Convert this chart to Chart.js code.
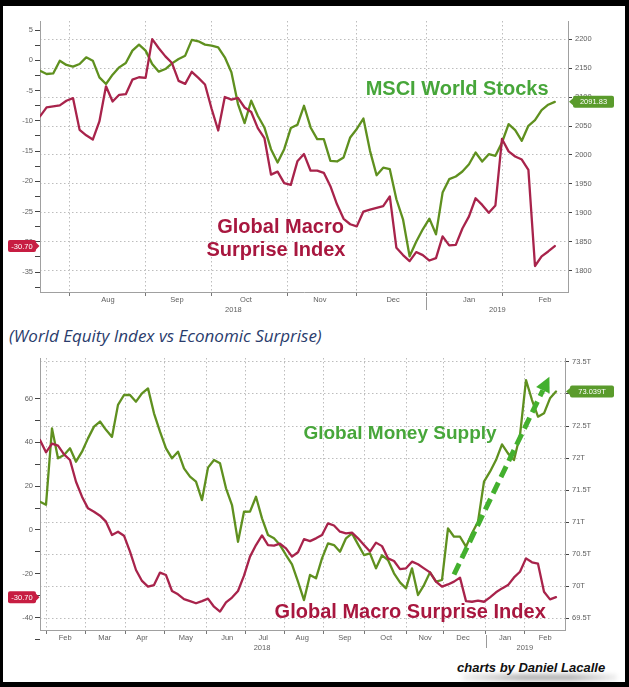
<!DOCTYPE html>
<html>
<head>
<meta charset="utf-8">
<script src="https://cdn.jsdelivr.net/npm/chart.js@4.4.1/dist/chart.umd.min.js"></script>
<style>
html,body{margin:0;padding:0;background:#000;}
#page{position:absolute;left:0;top:0;width:629px;height:687px;background:#000;overflow:hidden;}
#white{position:absolute;left:3px;top:6px;width:622px;height:676px;background:#fff;}
#c1{position:absolute;left:0;top:0;}
#c2{position:absolute;left:0;top:340px;}
#sub{position:absolute;left:9px;top:325px;font-family:'Open Sans',sans-serif;font-style:italic;font-size:17px;line-height:22px;color:#2a3c6c;white-space:nowrap;}
#credit{position:absolute;left:457px;top:660px;font-family:'Liberation Sans',Arial,sans-serif;font-style:italic;font-weight:bold;font-size:13px;line-height:16px;color:#111;white-space:nowrap;}
#shadow{position:absolute;left:462px;top:674px;width:155px;height:7px;background:linear-gradient(to right,rgba(0,0,0,0.05),rgba(0,0,0,0.28) 40%,rgba(0,0,0,0.28) 70%,rgba(0,0,0,0.05));filter:blur(2px);}
</style>
</head>
<body>
<div id="page">
  <div id="white"></div>
  <div id="shadow"></div>
  <canvas id="c1" width="629" height="320"></canvas>
  <div id="sub">(World Equity Index vs Economic Surprise)</div>
  <canvas id="c2" width="629" height="320"></canvas>
  <div id="credit">charts by Daniel Lacalle</div>
</div>
<script>
// ---------------- DATA ----------------
// Top chart: sampled every 2 trading days, Jul 2018 - Feb 2019
const topMSCI = [2145.7,2140,2141,2163,2155.6,2152.7,2157.3,2168.8,2163,2134.2,2122.7,2138.8,2151.5,2159,2180.4,2190.8,2180.4,2157.3,2144,2148.6,2158.4,2166,2171.7,2198.9,2196.5,2190.8,2189,2186.2,2168.8,2142.9,2088,2055,2093.8,2067.8,2047.6,2010.1,1987,2010.1,2046.5,2052.2,2085.1,2047.6,2027.4,2027.4,1989.9,1988.8,1995.7,2030.3,2045,2063,2007.2,1965,1978,1975.5,1923.5,1888.9,1825,1850,1871.6,1890,1862.9,1935,1958.2,1962.8,1971.4,1984.1,2004.3,1988.8,2001.4,1998.6,2021.6,2053.4,2043,2024.5,2050.5,2060.3,2077.6,2086.9,2091.83];
const topSurprise = [-9.27,-7.78,-7.62,-7.45,-6.68,-6.24,-11.5,-12.4,-13.1,-10.1,-4.3,-6.8,-5.7,-5.6,-3.2,-2.8,-2.9,3.5,2.0,0.65,-0.45,-3.4,-3.9,-1.9,-2.9,-4.0,-8.0,-11.6,-6.07,-6.5,-6.2,-7.8,-8.55,-11.2,-12.85,-18.9,-18.4,-20.3,-20.6,-16.7,-15.5,-18.25,-18.25,-18.6,-20.8,-23.8,-26.2,-27.1,-27.45,-25,-24.7,-24.4,-24.1,-22.5,-31.0,-32.2,-33.2,-31.7,-32.2,-33.1,-32.7,-29.1,-30.6,-30.5,-27.8,-25.8,-22.8,-23.9,-25.2,-24.0,-13,-15.05,-15.9,-16.4,-18.1,-34,-32.4,-31.6,-30.7];
const topStep = 2;                 // trading days per sample
const topXMax = 160;
const topMonthStarts = [9,32,52,75,96,117,140];
const topMonthPos = [20.6,41.5,62.4,84.8,107,130,153];
const topMonthLabels = ['Aug','Sep','Oct','Nov','Dec','Jan','Feb'];
const topYearPos = [58.6,138.6];
const topYearLabels = ['2018','2019'];
const topYearBreak = 117;
const topLeftTicks = [5,0,-5,-10,-15,-20,-25,-30,-35];
const topRightTicks = [2200,2150,2100,2050,2000,1950,1900,1850,1800];

// Bottom chart: sampled ~2 per week, Jan 2018 - Feb 2019
const botMoney = [71.317,71.27,72.463,71.995,72.047,72.151,71.942,72.099,72.307,72.49,72.57,72.44,72.33,72.83,72.984,72.984,72.88,73.01,73.088,72.698,72.411,72.151,71.995,72.099,71.838,71.708,71.63,71.343,71.85,71.97,71.917,71.526,71.265,70.69,71.16,71.161,71.395,71.057,70.797,70.745,70.64,70.484,70.338,70.068,69.78,70.172,70.12,70.432,70.666,70.64,70.536,70.745,70.823,70.65,70.484,70.51,70.276,70.48,70.406,70.198,70.057,69.963,70.276,69.859,70.015,70.213,70.068,70.094,70.901,70.77,70.77,70.614,70.823,71.005,71.63,71.786,71.968,72.213,72.072,71.968,72.359,73.218,72.906,72.645,72.698,72.932,73.039];
const botSurprise = [41.05,35.42,39.37,38.46,34.5,31.91,22.0,15.17,9.84,8.32,6.5,3.76,-2.33,-0.81,-2.64,-9.94,-18.31,-23.3,-25.9,-25.2,-19.5,-20.6,-27.9,-29.4,-31.6,-32.5,-33.5,-32.5,-31.4,-35.06,-37.3,-33.1,-30.9,-27.9,-20.9,-12.2,-6.9,-2.5,-6.9,-7.2,-6.3,-8.4,-12.2,-10.2,-4.2,-5.1,-3.85,-2.3,3.0,2.0,-0.81,-1.57,-1.27,-3.85,-6.9,-9.9,-5.8,-7.4,-12.98,-14.2,-17.9,-17.55,-14.5,-15.7,-17.55,-19.4,-23.6,-25.9,-24.9,-23.6,-21.8,-32.5,-32.8,-32.3,-32.8,-30.8,-28.5,-26.7,-25.2,-21.7,-19.1,-13.0,-14.8,-15.4,-28.2,-31.7,-30.7];
const botStep = 1;
const botXMax = 87.5;
const botMonthStarts = [1,7.5,14.2,20.7,27.7,34.2,40.8,47.3,54,61,67.3,74.3,80.7];
const botMonthPos = [4.2,10.8,17,24.3,31.2,37.2,43.7,50.8,57.7,64.2,70.5,77.5,84.2];
const botMonthLabels = ['Feb','Mar','Apr','May','Jun','Jul','Aug','Sep','Oct','Nov','Dec','Jan','Feb'];
const botYearPos = [37,80.8];
const botYearLabels = ['2018','2019'];
const botYearBreak = 74.3;
const botLeftTicks = [60,40,20,0,-20,-40];
const botRightTicks = [73.5,73,72.5,72,71.5,71,70.5,70,69.5];

// ---------------- STYLE ----------------
const FONT = "'Liberation Sans', Arial, sans-serif";
const GREEN_LINE = '#5f901f';
const RED_LINE = '#a8234b';
const GREEN_TEXT = '#47a63a';
const RED_TEXT = '#a8173f';
const GRID = '#bdbdbd';
const AXIS = '#a0a0a0';
const TICK = '#606060';
const TICKMARK = '#444';

function minorsOf(arr){
  const out = arr.slice();
  for (let i=0;i<arr.length-1;i++) out.push((arr[i]+arr[i+1])/2);
  out.push(arr[arr.length-1] - (arr[0]-arr[1])/2);
  return out;
}

function overlayPlugin(o){
  return {
    id:'overlay',
    afterDraw(chart){
      const c = chart.ctx, s = chart.scales, a = chart.chartArea;
      // year separator
      c.save();
      c.strokeStyle = '#9a9a9a'; c.lineWidth = 1;
      const bx = Math.round(s.x.getPixelForValue(o.yearBreak)) + 0.5;
      c.beginPath(); c.moveTo(bx, a.bottom + 5); c.lineTo(bx, a.bottom + 18); c.stroke();
      c.restore();
      // arrow
      if (o.arrow){
        const x1 = s.x.getPixelForValue(o.arrow.x1), y1 = s.yR.getPixelForValue(o.arrow.y1);
        const x2 = s.x.getPixelForValue(o.arrow.x2), y2 = s.yR.getPixelForValue(o.arrow.y2);
        const ang = Math.atan2(y2-y1, x2-x1), head = 15, hw = 7.5;
        const ex = x2 - Math.cos(ang)*head, ey = y2 - Math.sin(ang)*head;
        c.save();
        c.strokeStyle = '#43b02e'; c.fillStyle = '#43b02e';
        c.lineWidth = 5; c.setLineDash([12,6]);
        c.beginPath(); c.moveTo(x1,y1); c.lineTo(ex,ey); c.stroke();
        c.setLineDash([]);
        c.beginPath();
        c.moveTo(x2,y2);
        c.lineTo(ex + Math.sin(ang)*hw, ey - Math.cos(ang)*hw);
        c.lineTo(ex - Math.sin(ang)*hw, ey + Math.cos(ang)*hw);
        c.closePath(); c.fill();
        c.restore();
      }
      // annotation texts
      o.texts.forEach(t => {
        c.save();
        c.font = 'bold ' + t.size + 'px ' + FONT;
        c.fillStyle = t.color; c.textAlign = 'center'; c.textBaseline = 'middle';
        c.fillText(t.text, s.x.getPixelForValue(t.x), s[t.axis].getPixelForValue(t.y));
        c.restore();
      });
      // value boxes
      const box = (txt, y, color, side) => {
        c.save();
        c.font = '7.5px ' + FONT;
        const h = 12;
        let x0, x1, px;
        if (side === 'left'){ x1 = a.left - 4; x0 = 8; px = a.left - 0.5; }
        else { x0 = a.right + 5; x1 = 614; px = a.right + 1; }
        c.fillStyle = color;
        c.beginPath();
        if (c.roundRect) c.roundRect(x0, y - h/2, x1 - x0, h, 2); else c.rect(x0, y - h/2, x1 - x0, h);
        c.fill();
        c.beginPath();
        if (side === 'left'){ c.moveTo(x1, y-3.5); c.lineTo(px, y); c.lineTo(x1, y+3.5); }
        else { c.moveTo(x0, y-3.5); c.lineTo(px, y); c.lineTo(x0, y+3.5); }
        c.closePath(); c.fill();
        c.fillStyle = '#fff'; c.textAlign = 'center'; c.textBaseline = 'middle';
        c.fillText(txt, (x0 + x1)/2, y + 0.5);
        c.restore();
      };
      const lastRed = o.red[o.red.length-1], lastGreen = o.green[o.green.length-1];
      box(lastRed.toFixed(2), s.yL.getPixelForValue(lastRed), '#c71d42', 'left');
      box(o.greenFmt(lastGreen), s.yR.getPixelForValue(lastGreen), '#5a9b2c', 'right');
    }
  };
}

function buildChart(id, o){
  const mk = (arr) => arr.map((v,i) => ({x: i*o.step, y: v}));
  const hx = (ticks, labels, weight, height, showLabels) => ({
    type:'linear', position:'bottom', min:0, max:o.xMax, weight:weight,
    afterBuildTicks: s => { s.ticks = ticks.map(v => ({value:v})); },
    ticks:{display:showLabels, autoSkip:false, maxRotation:0, minRotation:0, padding:0,
      font:{size:7.5, family:FONT}, color:TICK, callback:(v,i) => labels ? labels[i] : ''},
    grid:{display:false, drawTicks:false},
    border:{display:false},
    afterFit: s => { s.height = height; }
  });
  return new Chart(document.getElementById(id), {
    type:'line',
    data:{datasets:[
      {label:o.redName, data:mk(o.red), xAxisID:'x', yAxisID:'yL', borderColor:RED_LINE, borderWidth:2.3,
       pointRadius:0, tension:0, fill:false, borderJoinStyle:'round', borderCapStyle:'round'},
      {label:o.greenName, data:mk(o.green), xAxisID:'x', yAxisID:'yR', borderColor:GREEN_LINE, borderWidth:2.3,
       pointRadius:0, tension:0, fill:false, borderJoinStyle:'round', borderCapStyle:'round'}
    ]},
    options:{
      responsive:false, animation:false, events:[],
      layout:{padding:{top:o.padTop, left:0, right:0, bottom:0}},
      plugins:{legend:{display:false}, tooltip:{enabled:false}},
      scales:{
        x:{type:'linear', position:'bottom', min:0, max:o.xMax, weight:0,
           afterBuildTicks: s => { s.ticks = o.monthStarts.map(v => ({value:v})); },
           ticks:{display:false},
           grid:{display:true, drawOnChartArea:true, drawTicks:true, tickLength:4, color:GRID, lineWidth:1,
                 tickColor:'#777', tickBorderDash:[]},
           border:{display:true, color:AXIS, width:1, dash:[1.5,2.5]},
           afterFit: s => { s.height = 3; }},
        xl: hx(o.monthPos, o.monthLabels, 1, 10, true),
        xy: hx(o.yearPos, o.yearLabels, 2, o.yearH, true),
        yL:{type:'linear', position:'left', min:o.yLmin, max:o.yLmax,
           afterBuildTicks: s => { s.ticks = minorsOf(o.leftTicks).map(v => ({value:v})); },
           ticks:{autoSkip:false, padding:2, font:{size:7.5, family:FONT}, color:TICK,
                  callback: v => o.leftTicks.includes(v) ? String(v) : ''},
           grid:{display:true, drawOnChartArea:false, drawTicks:true, tickLength:5, tickColor:TICKMARK, tickBorderDash:[]},
           border:{display:true, color:AXIS, width:1},
           afterFit: s => { s.width = 40; }},
        yR:{type:'linear', position:'right', min:o.yRmin, max:o.yRmax,
           afterBuildTicks: s => { s.ticks = o.rightTicks.map(v => ({value:v})); },
           ticks:{autoSkip:false, padding:3, font:{size:7.5, family:FONT}, color:TICK, callback:o.rightFmt},
           grid:{display:true, drawOnChartArea:true, drawTicks:true, tickLength:4, color:GRID, lineWidth:1,
                 tickColor:TICKMARK, tickBorderDash:[]},
           border:{display:true, color:AXIS, width:1, dash:[1.5,2.5]},
           afterFit: s => { s.width = o.rightW; }}
      }
    },
    plugins:[overlayPlugin(o)]
  });
}

buildChart('c1', {
  red:topSurprise, green:topMSCI, redName:'Global Macro Surprise Index', greenName:'MSCI World Stocks',
  step:topStep, xMax:topXMax, padTop:21, rightW:61, yearH:15,
  monthStarts:topMonthStarts, monthPos:topMonthPos, monthLabels:topMonthLabels,
  yearPos:topYearPos, yearLabels:topYearLabels, yearBreak:topYearBreak,
  yLmin:-38.3, yLmax:6.5, yRmin:1763.2, yRmax:2231.6,
  leftTicks:topLeftTicks, rightTicks:topRightTicks,
  rightFmt: v => String(v), greenFmt: v => v.toFixed(2),
  texts:[
    {text:'MSCI World Stocks', x:126.4, y:2114, axis:'yR', size:20, color:GREEN_TEXT},
    {text:'Global Macro', x:72.9, y:-27.7, axis:'yL', size:20, color:RED_TEXT},
    {text:'Surprise Index', x:71.5, y:-31.4, axis:'yL', size:20, color:RED_TEXT}
  ]
});

buildChart('c2', {
  red:botSurprise, green:botMoney, redName:'Global Macro Surprise Index', greenName:'Global Money Supply',
  step:botStep, xMax:botXMax, padTop:18, rightW:64, yearH:17,
  monthStarts:botMonthStarts, monthPos:botMonthPos, monthLabels:botMonthLabels,
  yearPos:botYearPos, yearLabels:botYearLabels, yearBreak:botYearBreak,
  yLmin:-45.7, yLmax:78.5, yRmin:69.3125, yRmax:73.5625,
  leftTicks:botLeftTicks, rightTicks:botRightTicks,
  rightFmt: v => v + 'T', greenFmt: v => v.toFixed(3) + 'T',
  arrow:{x1:69, y1:70.18, x2:84.9, y2:73.27},
  texts:[
    {text:'Global Money Supply', x:60, y:72.375, axis:'yR', size:19, color:GREEN_TEXT},
    {text:'Global Macro Surprise Index', x:61.7, y:-37.8, axis:'yL', size:20, color:RED_TEXT}
  ]
});
</script>
</body>
</html>
